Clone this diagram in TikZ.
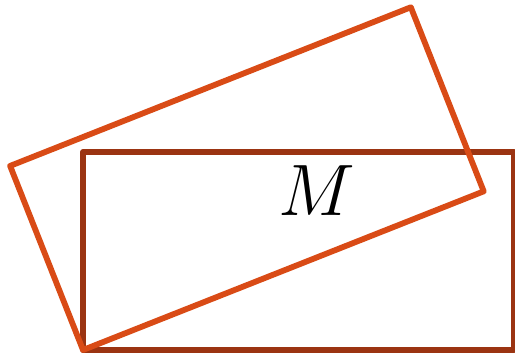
\documentclass[tikz,border=0pt]{standalone}
\definecolor{koyu}{RGB}{155,52,18}
\definecolor{turuncu}{RGB}{217,75,22}
\begin{document}
\begin{tikzpicture}[kenar/.style={line width=0.058cm, line join=round}]
  % --- olcu: 1 birim = 100 piksel ---
  \def\W{4.31}  % genislik
  \def\H{1.98}  % yukseklik
  \def\A{21.6}  % donme acisi
  \useasboundingbox (0,0) rectangle (5.15,3.56);
  \coordinate (kose) at (0.83,0.06);

  % ---- 1) sabit dikdortgen ----
  \draw[kenar, koyu] (kose) rectangle ++(\W,\H);

  % ---- 2) dondurulmus dikdortgen ----
  \draw[kenar, turuncu, rotate around={\A:(kose)}] (kose) rectangle ++(\W,\H);

  \node[inner sep=0pt, font=\fontsize{22}{26}\selectfont] (etiket) at (3.17,1.65) {$M$};
\end{tikzpicture}
\end{document}
